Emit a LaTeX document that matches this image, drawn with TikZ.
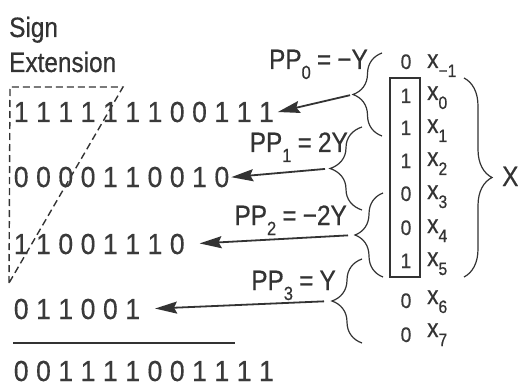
\documentclass[tikz,border=0pt]{standalone}
\usepackage{fontspec}
\setmainfont{Liberation Sans}
\newfontfamily\condfont[FakeStretch=0.87,FakeBold=0.5]{Liberation Sans}
\newfontfamily\digfont[FakeStretch=0.92,FakeBold=0.4]{Liberation Sans}
\usetikzlibrary{arrows.meta,decorations.pathreplacing}
\definecolor{ink}{HTML}{333333}
\definecolor{dig}{HTML}{3A3A3A}
\newcommand\subx[3]{\raisebox{-#1}{\fontsize{#2}{#2}\selectfont #3}}
\def\bitloop#1{\ifx\relax#1\else\makebox[22.3pt]{#1}\expandafter\bitloop\fi}
\newcommand\bitrowtext[1]{\bitloop#1\relax}
\begin{document}
\begin{tikzpicture}[x=1pt,y=-1pt,
  bitrow/.style={font=\digfont\fontsize{29}{29}\selectfont, text=dig, inner sep=0pt, anchor=base west},
  lab/.style={font=\condfont\fontsize{28}{28}\selectfont, text=ink, inner sep=0pt, anchor=base east},
  head/.style={font=\condfont\fontsize{28}{28}\selectfont, text=ink, inner sep=0pt, anchor=base west},
  coldig/.style={font=\digfont\fontsize{21}{21}\selectfont, text=dig, inner sep=0pt, anchor=base},
  xlab/.style={font=\condfont\fontsize{26}{26}\selectfont, text=ink, inner sep=0pt, anchor=base west},
  brc/.style={draw=ink, line width=1.2pt, decorate},
  arr/.style={draw=ink, line width=1.8pt, -{Stealth[length=22pt,width=12pt,inset=3pt]}},
  dsh/.style={draw=ink, line width=1.4pt, dash pattern=on 7pt off 4pt}
]
\useasboundingbox[fill=white] (0,0) rectangle (518,387);

% heading
\node[head] (sign) at (9,37) {Sign};
\node[head] (ext) at (9,72) {Extension};

% sign extension dashed marks
\coordinate (dtl) at (10,87);
\coordinate (dtr) at (123,87);
\coordinate (dbl) at (9,283);
\draw[dsh] (dbl) -- (dtl) -- (dtr) -- (dbl);

% partial product rows
\node[bitrow] (r1) at (9.85,122) {\bitrowtext{111111100111}};
\node[bitrow] (r2) at (9.85,187) {\bitrowtext{0000110010}};
\node[bitrow] (r3) at (9.85,254) {\bitrowtext{11001110}};
\node[bitrow] (r4) at (9.85,319) {\bitrowtext{011001}};
\coordinate (ll) at (13,343);
\coordinate (lr) at (235,343);
\draw[draw=ink, line width=1.3pt] (ll) -- (lr);
\node[bitrow] (r5) at (9.85,381) {\bitrowtext{001111001111}};

% multiplier bits
\node[coldig] (dm1) at (406,69) {0};
\node[coldig] (d0) at (406,103) {1};
\node[coldig] (d1) at (406,135) {1};
\node[coldig] (d2) at (406,168) {1};
\node[coldig] (d3) at (406,201) {0};
\node[coldig] (d4) at (406,235) {0};
\node[coldig] (d5) at (406,268) {1};
\node[coldig] (d6) at (406,308) {0};
\node[coldig] (d7) at (406,342) {0};
\node[draw=ink, line width=1.2pt, minimum width=30pt, minimum height=199pt, inner sep=0pt] (box) at (405,177.5) {};

\node[xlab] (xm1) at (427,68) {x\subx{9pt}{18}{−1}};
\node[xlab] (x0) at (427,100) {x\subx{9pt}{18}{0}};
\node[xlab] (x1) at (427,133) {x\subx{9pt}{18}{1}};
\node[xlab] (x2) at (427,166) {x\subx{9pt}{18}{2}};
\node[xlab] (x3) at (427,199) {x\subx{9pt}{18}{3}};
\node[xlab] (x4) at (427,233) {x\subx{9pt}{18}{4}};
\node[xlab] (x5) at (427,266) {x\subx{9pt}{18}{5}};
\node[xlab] (x6) at (427,304) {x\subx{9pt}{18}{6}};
\node[xlab] (x7) at (427,337) {x\subx{9pt}{18}{7}};

% big brace and X
\draw[brc, decoration={brace, amplitude=28pt}] (464,78) -- (464,277);
\node[head] (X) at (502,186) {X};

% booth group braces
\draw[brc, decoration={brace, amplitude=29pt}] (382,136) -- (382,53);
\draw[brc, decoration={brace, amplitude=32pt}] (362,210) -- (362,127);
\draw[brc, decoration={brace, amplitude=28pt}] (383,277) -- (383,193);
\draw[brc, decoration={brace, amplitude=30pt}] (362,343) -- (362,259);
\coordinate (t0) at (353,94.5);
\coordinate (t1) at (330,168.5);
\coordinate (t2) at (355,235);
\coordinate (t3) at (332,301);

% labels
\node[lab] (pp0) at (368,69) {PP\subx{10pt}{19}{0}\hspace{0.22em}=\hspace{0.22em}−Y};
\node[lab] (pp1) at (348,152) {PP\subx{10pt}{19}{1}\hspace{0.22em}=\hspace{0.22em}2Y};
\node[lab] (pp2) at (347,225) {PP\subx{10pt}{19}{2}\hspace{0.22em}=\hspace{0.22em}−2Y};
\node[lab] (pp3) at (336,290) {PP\subx{10pt}{19}{3}\hspace{0.22em}=\hspace{0.22em}Y};

% arrows
\draw[arr, shorten <=3pt] (t0) -- (r1.east);
\draw[arr, shorten <=5pt, shorten >=-2pt] (t1) -- (r2.east);
\draw[arr, shorten <=7pt, shorten >=11pt] (t2) -- (r3.east);
\draw[arr, shorten <=8pt, shorten >=11pt] (t3) -- (r4.east);
\end{tikzpicture}
\end{document}
